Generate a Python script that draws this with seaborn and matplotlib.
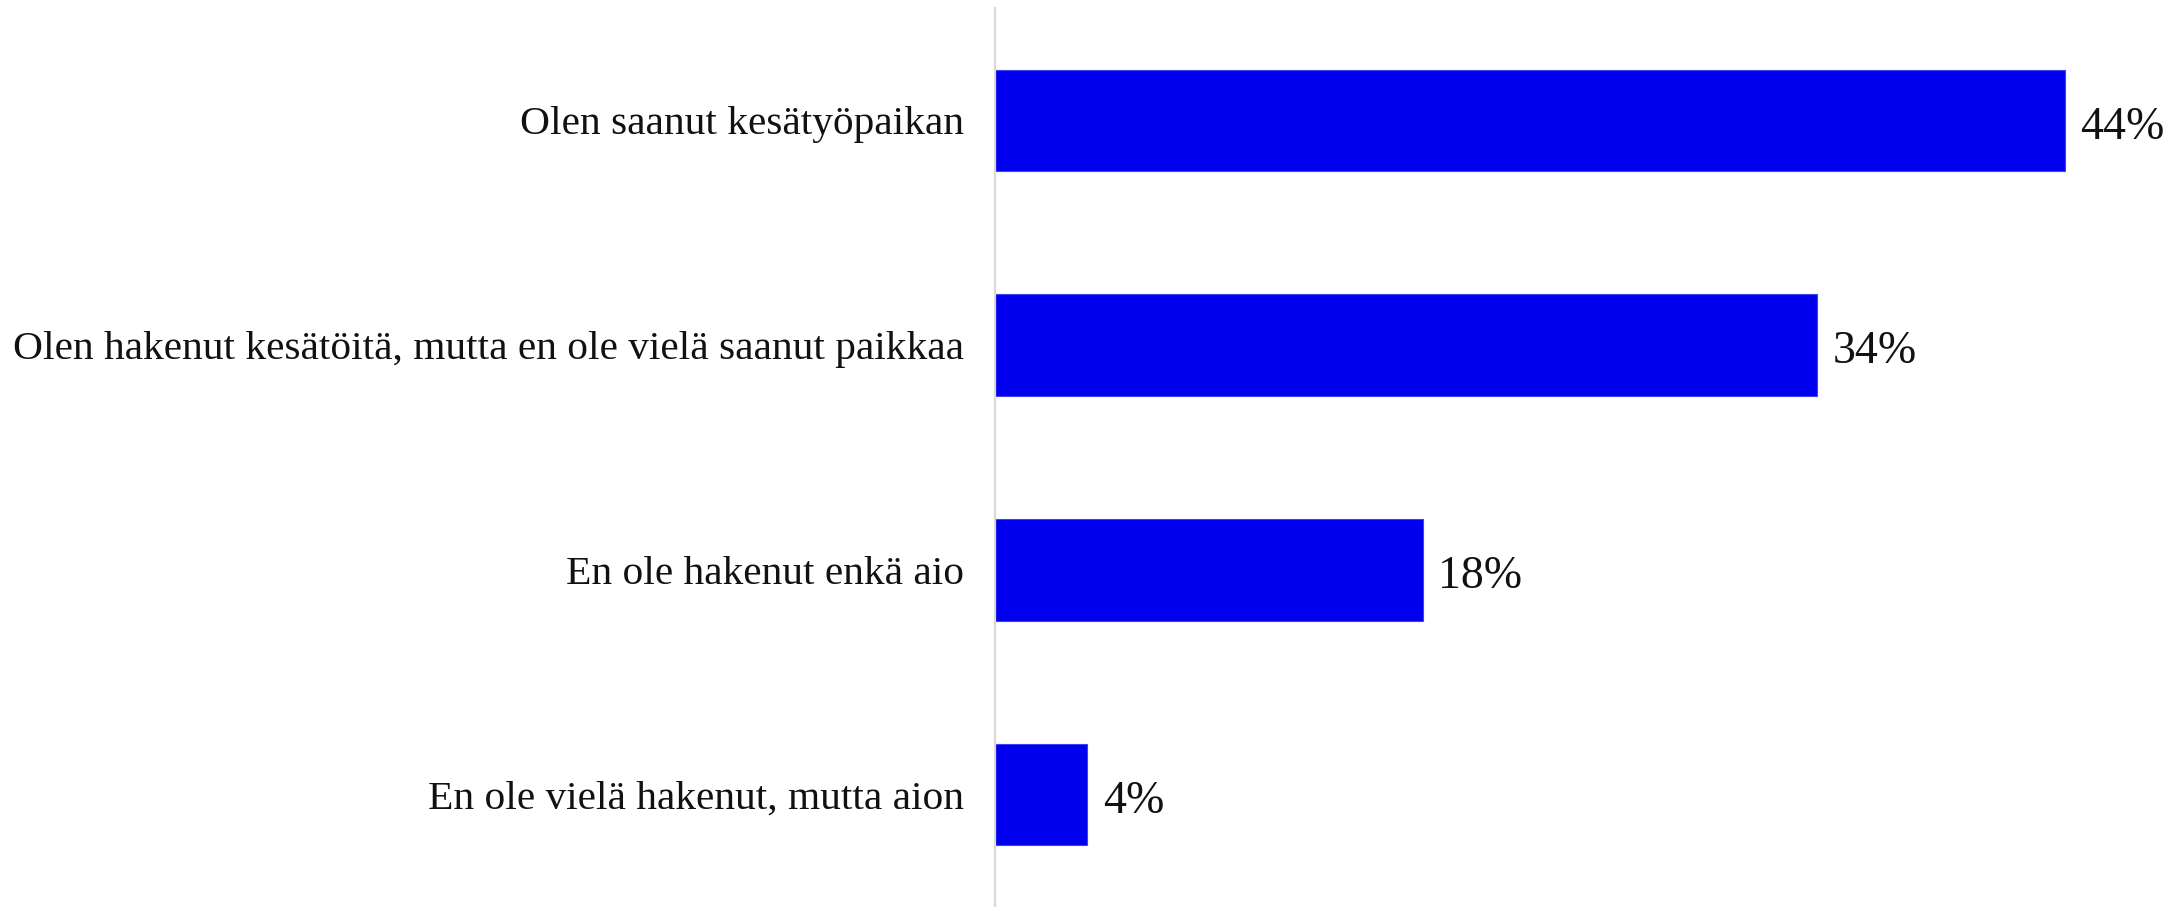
import matplotlib
matplotlib.use("Agg")
import matplotlib.pyplot as plt
import seaborn as sns
import pandas as pd

categories = [
    "Olen saanut kesätyöpaikan",
    "Olen hakenut kesätöitä, mutta en ole vielä saanut paikkaa",
    "En ole hakenut enkä aio",
    "En ole vielä hakenut, mutta aion",
]
values = [44.0, 33.8, 17.6, 3.8]
labels = ["44%", "34%", "18%", "4%"]

sns.set_theme(style="white")
plt.rcParams["font.family"] = ["Liberation Serif", "DejaVu Serif"]

df = pd.DataFrame({"category": categories, "value": values})

fig = plt.figure(figsize=(21.69, 9.07), dpi=100)
ax = fig.add_axes([995 / 2169, 0.0, 1 - 995 / 2169, 1 - 8 / 907])

sns.barplot(data=df, x="value", y="category", orient="h", color="#0000ee",
            saturation=1, width=0.452, ax=ax, edgecolor="#4040f0", linewidth=0.8)

ax.set_xlim(0, (2169 - 995) / 24.32)
ax.set_ylim(3.5, -0.5)
ax.set_xlabel("")
ax.set_ylabel("")
ax.set_xticks([])
for s in ["top", "right", "bottom"]:
    ax.spines[s].set_visible(False)
ax.spines["left"].set_color("#d9d9d9")
ax.spines["left"].set_linewidth(1.6)
ax.tick_params(axis="y", length=0, pad=22, labelsize=29.8, labelcolor="#111111")

for cont in ax.containers:
    texts = ax.bar_label(cont, labels=labels, padding=11, fontsize=33, color="#111111")
    for t in texts:
        t.xyann = (11, -5)

fig.savefig("out.png", dpi=100)
